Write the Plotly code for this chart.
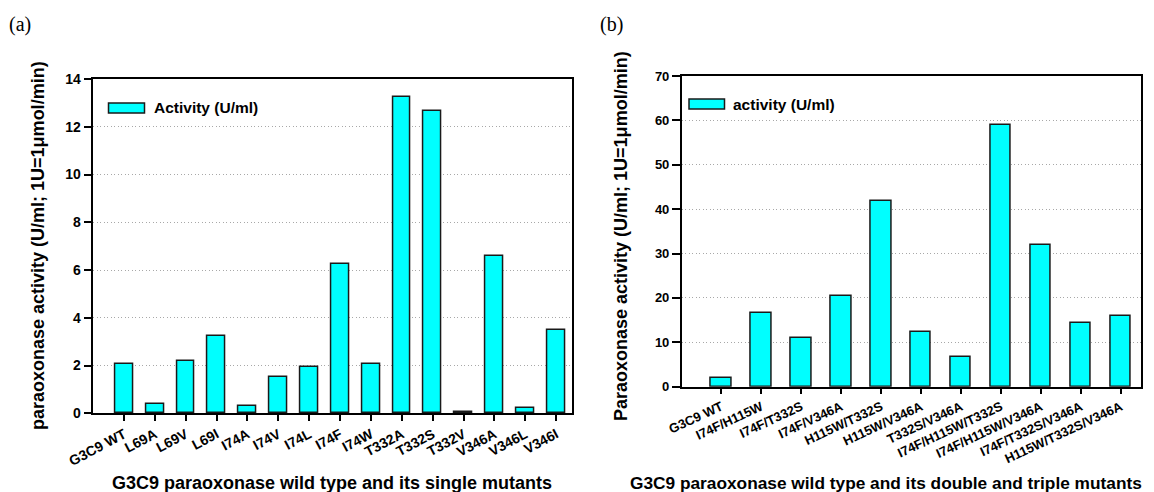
import plotly.graph_objects as go

W, H = 1154, 492

single_labels = ["G3C9 WT", "L69A", "L69V", "L69I", "I74A", "I74V", "I74L", "I74F",
                 "I74W", "T332A", "T332S", "T332V", "V346A", "V346L", "V346I"]
single_values = [2.07, 0.38, 2.17, 3.23, 0.31, 1.54, 1.94, 6.26,
                 2.08, 13.26, 12.67, 0.07, 6.59, 0.22, 3.47]

multi_labels = ["G3C9 WT", "I74F/H115W", "I74F/T332S", "I74F/V346A", "H115W/T332S",
                "H115W/V346A", "T332S/V346A", "I74F/H115W/T332S", "I74F/H115W/V346A",
                "I74F/T332S/V346A", "H115W/T332S/V346A"]
multi_values = [2.03, 16.5, 11.0, 20.4, 41.8, 12.4, 6.76, 58.9, 31.9, 14.4, 15.9]

y_ticks_a = [0, 2, 4, 6, 8, 10, 12, 14]
y_ticks_b = [0, 10, 20, 30, 40, 50, 60, 70]

FONT = "Liberation Sans, Arial, sans-serif"
SERIF = "Liberation Serif, Times New Roman, serif"
CYAN = "#00FFFF"
EDGE = "#1a1a1a"


def px(x):
    return x / W


def py(y):
    return 1 - y / H


fig = go.Figure()
fig.add_trace(go.Bar(x=list(range(len(single_labels))), y=single_values, width=0.58,
                     marker=dict(color=CYAN, line=dict(color=EDGE, width=1.5)),
                     xaxis="x", yaxis="y", showlegend=False))
fig.add_trace(go.Bar(x=list(range(len(multi_labels))), y=multi_values, width=0.51,
                     marker=dict(color=CYAN, line=dict(color=EDGE, width=1.5)),
                     xaxis="x2", yaxis="y2", showlegend=False))


def bfont(size):
    return dict(family=FONT, size=size, color="black", weight="bold")


common_x = dict(showline=True, linecolor="black", linewidth=1.5, mirror=True,
                ticks="outside", ticklen=6, tickwidth=1.5, tickcolor="black",
                showgrid=False, zeroline=False, automargin=False)
common_y = dict(showline=True, linecolor="black", linewidth=1.5, mirror=True,
                ticks="outside", ticklen=8, tickwidth=1.5, tickcolor="black",
                showgrid=True, gridcolor="#a8a8a8", gridwidth=1,
                griddash="1px,2.5px", zeroline=False, automargin=False)

fig.update_layout(
    width=W, height=H,
    margin=dict(l=0, r=0, t=0, b=0),
    paper_bgcolor="white", plot_bgcolor="white",
    bargap=0,
    xaxis=dict(domain=[px(93.3), px(571.6)], range=[-0.995, 14.5],
               tickmode="array", tickvals=list(range(len(single_labels))),
               ticktext=single_labels, anchor="y", tickangle=-28,
               tickfont=bfont(14), **common_x),
    yaxis=dict(domain=[py(413.3), py(79)], range=[0, 14], tickvals=y_ticks_a,
               anchor="x", tickfont=bfont(14), **common_y),
    xaxis2=dict(domain=[px(681.7), px(1140.7)], range=[-0.99, 10.5],
                tickmode="array", tickvals=list(range(len(multi_labels))),
                ticktext=multi_labels, anchor="y2", tickangle=-25,
                tickfont=bfont(13), **common_x),
    yaxis2=dict(domain=[py(386.7), py(76)], range=[0, 70], tickvals=y_ticks_b,
                anchor="x2", tickfont=bfont(13), **common_y),
)


def note(text, x, y, size, family=FONT, bold=True, xanchor="center", angle=0):
    f = dict(family=family, size=size, color="black")
    if bold:
        f["weight"] = "bold"
    return dict(text=text, x=px(x), y=py(y), xref="paper", yref="paper",
                xanchor=xanchor, yanchor="middle", showarrow=False,
                textangle=angle, font=f)


ann = [
    note("(a)", 20, 24, 20, family=SERIF, bold=False),
    note("(b)", 611, 24, 20, family=SERIF, bold=False),
    note("paraoxonase activity (U/ml; 1U=1\u03bcmol/min)", 38, 246, 18, angle=-90),
    note("Paraoxonase activity (U/ml; 1U=1\u03bcmol/min)", 621, 236, 18, angle=-90),
    note("G3C9 paraoxonase wild type and its single mutants", 332, 483, 18),
    note("G3C9 paraoxonase wild type and its double and triple mutants", 886, 483, 17.3),
    note("Activity (U/ml)", 152, 108, 15.5, xanchor="left"),
    note("activity (U/ml)", 731, 104, 15.5, xanchor="left"),
]
fig.update_layout(annotations=ann)

shapes = [
    dict(type="rect", xref="paper", yref="paper", x0=px(108.5), x1=px(144.5),
         y0=py(113), y1=py(103), fillcolor=CYAN, line=dict(color=EDGE, width=1.5)),
    dict(type="rect", xref="paper", yref="paper", x0=px(689), x1=px(724.5),
         y0=py(109), y1=py(99), fillcolor=CYAN, line=dict(color=EDGE, width=1.5)),
]
fig.update_layout(shapes=shapes)

fig.write_html("out.html", config={"displayModeBar": False})

# remove the default browser body margin so the figure sits at the page origin
with open("out.html", "r", encoding="utf-8") as fh:
    html = fh.read()
html = html.replace("<body>", '<body style="margin:0;overflow:hidden">', 1)
with open("out.html", "w", encoding="utf-8") as fh:
    fh.write(html)
